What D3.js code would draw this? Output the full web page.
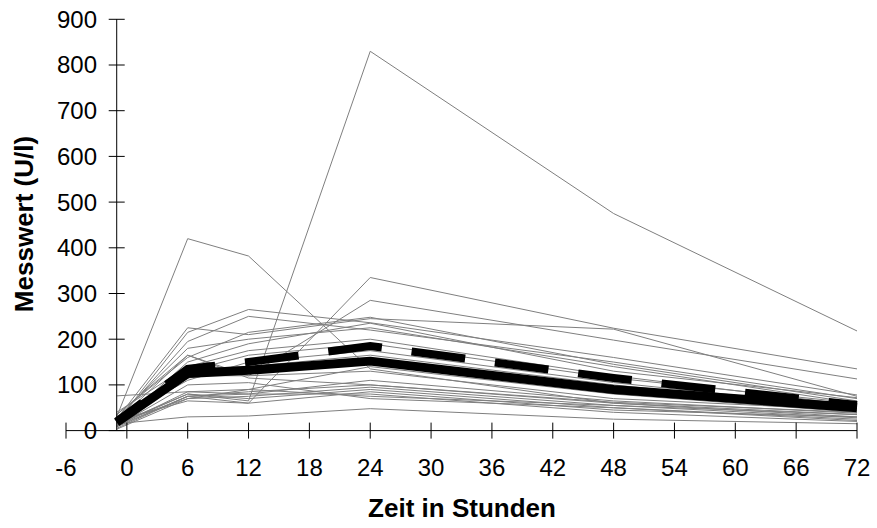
<!DOCTYPE html>
<html>
<head>
<meta charset="utf-8">
<script src="https://cdn.jsdelivr.net/npm/d3@7"></script>
<style>
  html, body { margin: 0; padding: 0; background: #fff; }
  svg { display: block; }
  text { font-family: "Liberation Sans", Arial, sans-serif; }
</style>
</head>
<body>
<svg id="chart" width="877" height="528"></svg>
<script>
// Sampling times in hours (first sample taken shortly before time 0)
const hours = [-1, 6, 12, 24, 48, 72];

// Individual courses (U/l), one array per patient
const patients = [
  [15, 80, 65, 830, 475, 218],
  [30, 420, 382, 135, 60, 35],
  [10, 75, 60, 335, 224, 135],
  [20, 165, 120, 285, 198, 113],
  [25, 225, 210, 245, 222, 75],
  [18, 215, 265, 236, 160, 78],
  [22, 195, 250, 220, 150, 70],
  [35, 160, 215, 248, 145, 65],
  [28, 180, 200, 225, 140, 60],
  [12, 150, 190, 235, 130, 72],
  [40, 140, 175, 200, 120, 55],
  [20, 130, 165, 190, 115, 60],
  [25, 110, 150, 175, 105, 50],
  [8, 135, 140, 165, 100, 45],
  [15, 115, 130, 150, 90, 50],
  [76, 85, 90, 140, 80, 40],
  [30, 120, 120, 130, 70, 45],
  [10, 85, 80, 110, 65, 38],
  [5, 75, 85, 100, 60, 30],
  [18, 70, 75, 95, 55, 35],
  [12, 80, 70, 90, 50, 25],
  [22, 65, 60, 85, 45, 30],
  [8, 75, 80, 80, 40, 20],
  [3, 70, 90, 75, 55, 28],
  [15, 30, 32, 48, 25, 15],
  [35, 165, 115, 100, 62, 40],
  [10, 100, 105, 70, 50, 22]
];

// Summary courses
const medianValues = [18, 125, 132, 152, 90, 50];
const meanValues = [20, 135, 150, 185, 115, 56];

// Axis ticks
const xTicks = [-6, 0, 6, 12, 18, 24, 30, 36, 42, 48, 54, 60, 66, 72];
const yTicks = [0, 100, 200, 300, 400, 500, 600, 700, 800, 900];

const svg = d3.select("#chart");

const x = d3.scaleLinear().domain([-6, 72]).range([66, 857]);
const y = d3.scaleLinear().domain([0, 900]).range([430.6, 19.3]);

const line = d3.line()
  .x((d, i) => x(hours[i]))
  .y(d => y(d));

// Patient courses
svg.append("g")
  .selectAll("path")
  .data(patients)
  .join("path")
  .attr("d", line)
  .attr("fill", "none")
  .attr("stroke", "#7f7f7f")
  .attr("stroke-width", 1);

// Median (solid) and mean (dashed)
svg.append("path")
  .attr("d", line(medianValues))
  .attr("fill", "none")
  .attr("stroke", "#000")
  .attr("stroke-width", 9)
  .attr("stroke-linejoin", "round");

svg.append("path")
  .attr("d", line(meanValues))
  .attr("fill", "none")
  .attr("stroke", "#000")
  .attr("stroke-width", 8)
  .attr("stroke-dasharray", "54,30")
  .attr("stroke-dashoffset", 22);

// Y axis (crosses the time axis at the first sampling time)
const yAxisX = x(-1);
const yAxis = svg.append("g");
yAxis.append("line")
  .attr("x1", yAxisX).attr("x2", yAxisX)
  .attr("y1", y(900)).attr("y2", y(0))
  .attr("stroke", "#000").attr("stroke-width", 1);
yAxis.selectAll("line.tick")
  .data(yTicks)
  .join("line")
  .attr("class", "tick")
  .attr("x1", yAxisX - 8).attr("x2", yAxisX + 8)
  .attr("y1", d => y(d)).attr("y2", d => y(d))
  .attr("stroke", "#000").attr("stroke-width", 1);
yAxis.selectAll("text")
  .data(yTicks)
  .join("text")
  .attr("x", 97)
  .attr("y", d => y(d))
  .attr("dy", "0.35em")
  .attr("text-anchor", "end")
  .attr("font-size", 24)
  .text(d => d);

// X axis
const xAxis = svg.append("g");
xAxis.append("line")
  .attr("x1", x(-6)).attr("x2", x(72))
  .attr("y1", y(0)).attr("y2", y(0))
  .attr("stroke", "#000").attr("stroke-width", 1);
xAxis.selectAll("line.tick")
  .data(xTicks)
  .join("line")
  .attr("class", "tick")
  .attr("x1", d => x(d)).attr("x2", d => x(d))
  .attr("y1", y(0) - 8).attr("y2", y(0) + 8)
  .attr("stroke", "#000").attr("stroke-width", 1);
xAxis.selectAll("text")
  .data(xTicks)
  .join("text")
  .attr("x", d => x(d))
  .attr("y", 468)
  .attr("dy", "0.35em")
  .attr("text-anchor", "middle")
  .attr("font-size", 24)
  .text(d => d);

// Axis titles
svg.append("text")
  .attr("x", 462)
  .attr("y", 517)
  .attr("text-anchor", "middle")
  .attr("font-size", 26)
  .attr("font-weight", "bold")
  .text("Zeit in Stunden");

svg.append("text")
  .attr("transform", "translate(33,224) rotate(-90)")
  .attr("text-anchor", "middle")
  .attr("font-size", 26)
  .attr("font-weight", "bold")
  .text("Messwert (U/l)");
</script>
</body>
</html>
